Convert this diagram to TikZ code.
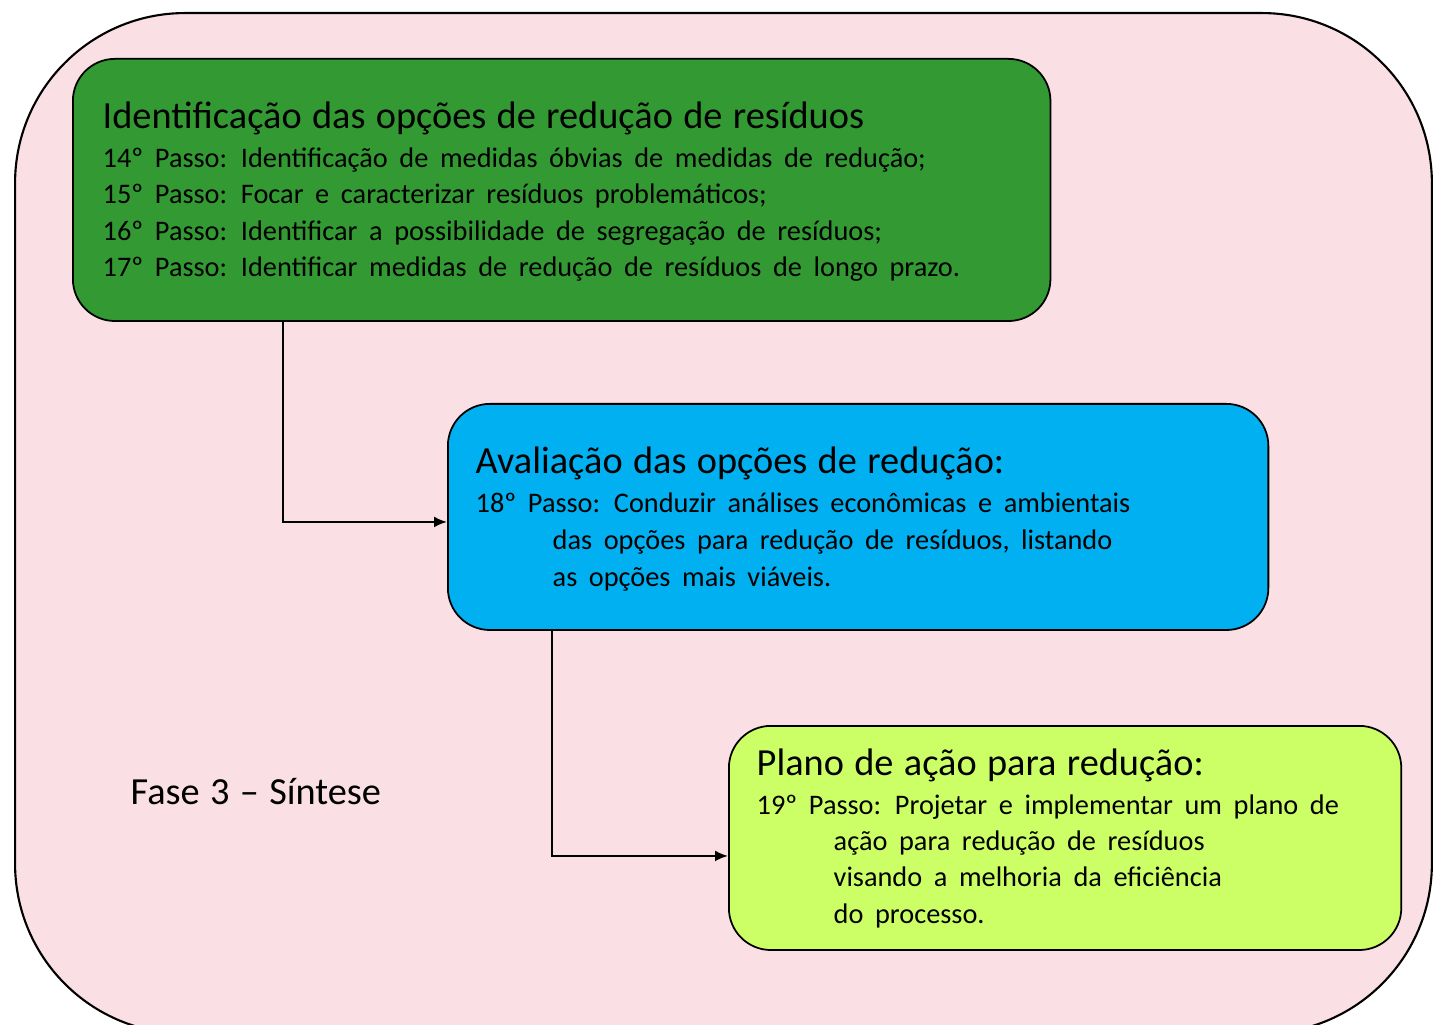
\documentclass[tikz,border=0pt]{standalone}
\usepackage{fontspec}
\setmainfont{Carlito}
\usetikzlibrary{arrows.meta}
\definecolor{fasebg}{HTML}{FAE0E4}
\definecolor{idgreen}{HTML}{339933}
\definecolor{avblue}{HTML}{00B0F0}
\definecolor{planlime}{HTML}{CCFF66}
\newcommand\titulofont{\fontsize{10.9}{13}\selectfont\spaceskip 0.27em\relax}
\newcommand\passofont{\fontsize{8.05}{10}\selectfont\spaceskip 0.41em\relax}
\tikzset{
  fasebox/.style={draw=black,line width=0.6pt,fill=fasebg,rounded corners=1.7cm,anchor=north west,inner sep=0pt},
  etapa/.style={draw=black,line width=0.5pt,rounded corners=0.42cm,anchor=north west,inner sep=0pt},
  titulo/.style={anchor=base west,inner sep=0pt,font=\titulofont},
  passo/.style={anchor=base west,inner sep=0pt,font=\passofont},
  seta/.style={line width=0.6pt,-{Latex[length=0.13cm,width=0.11cm]}}
}
\begin{document}
\begin{tikzpicture}[x=0.01cm,y=-0.01cm]
\useasboundingbox (0,0) rectangle (1440,1025);
\node[fasebox,minimum width=14.16cm,minimum height=10.2cm] (fase) at (14,12) {};
\node[titulo] (fasetxt) at (130,804) {Fase 3 -- Síntese};

\node[etapa,fill=idgreen,minimum width=9.77cm,minimum height=2.62cm] (ident) at (72,58) {};
\node[titulo] (g0) at (102,129) {Identificação das opções de redução de resíduos};
\node[passo] (g1) at (102,167.5) {14º Passo: Identificação de medidas óbvias de medidas de redução;};
\node[passo] (g2) at (102,204) {15º Passo: Focar e caracterizar resíduos problemáticos;};
\node[passo] (g3) at (102,240.5) {16º Passo: Identificar a possibilidade de segregação de resíduos;};
\node[passo] (g4) at (102,277) {17º Passo: Identificar medidas de redução de resíduos de longo prazo.};

\node[etapa,fill=avblue,minimum width=8.2cm,minimum height=2.26cm] (aval) at (447,403) {};
\node[titulo] (b0) at (475,474) {Avaliação das opções de redução:};
\node[passo] (b1) at (475,513) {18º Passo: Conduzir análises econômicas e ambientais};
\node[passo] (b2) at (552,549.5) {das opções para redução de resíduos, listando};
\node[passo] (b3) at (552,586) {as opções mais viáveis.};

\node[etapa,fill=planlime,minimum width=6.72cm,minimum height=2.24cm] (plano) at (728,725) {};
\node[titulo] (l0) at (756,775) {Plano de ação para redução:};
\node[passo] (l1) at (756,814) {19º Passo: Projetar e implementar um plano de};
\node[passo] (l2) at (833,850) {ação para redução de resíduos};
\node[passo] (l3) at (833,886.5) {visando a melhoria da eficiência};
\node[passo] (l4) at (833,923) {do processo.};

\draw[seta] (ident.south west) ++(211,0) |- ([yshift=-0.05cm]aval.west);
\draw[seta] (aval.south west) ++(105,0) |- ([yshift=-0.18cm]plano.west);
\end{tikzpicture}
\end{document}
